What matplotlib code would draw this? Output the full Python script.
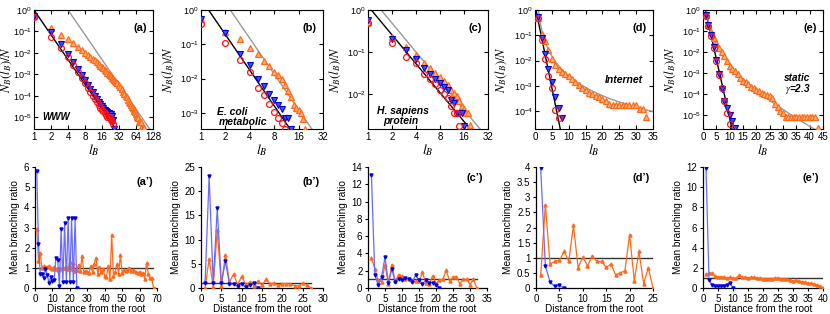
import numpy as np
import matplotlib.pyplot as plt
from matplotlib.ticker import FixedLocator, NullLocator, LogLocator, LogFormatterSciNotation

plt.rcParams['font.family'] = ['Liberation Sans', 'DejaVu Sans']
plt.rcParams['mathtext.fontset'] = 'stix'

ORANGE = '#ff6a1a'

# ---------------- top row: N_B(l_B)/N ----------------
# (a) WWW
a_l_red = list(range(1, 26))
a_red = [0.45, 0.055, 0.017, 0.0065, 0.0028, 0.0013, 6.5e-4, 3.8e-4, 2.3e-4, 1.5e-4,
         1.0e-4, 7e-5, 5e-5, 3.8e-5, 2.9e-5, 2.3e-5, 1.9e-5, 1.6e-5, 1.3e-5, 1.1e-5,
         1.0e-5, 9e-6, 8e-6, 6.5e-6, 5e-6]
a_l_blue = list(range(1, 27))
a_blue = [0.5, 0.09, 0.025, 0.009, 0.0038, 0.0018, 9.5e-4, 5.5e-4, 3.4e-4, 2.2e-4,
          1.5e-4, 1.05e-4, 7.5e-5, 5.5e-5, 4.3e-5, 3.4e-5, 2.8e-5, 2.3e-5, 2.0e-5, 1.8e-5,
          1.6e-5, 1.5e-5, 1.4e-5, 1.2e-5, 8e-6, 3e-6]
a_l_or = list(range(1, 31)) + list(range(32, 80, 2)) + [80, 84, 88]
a_or = [0.55, 0.14, 0.07, 0.044, 0.029, 0.02, 0.014, 0.0105, 0.0082, 0.0066,
        0.0054, 0.0045, 0.0038, 0.0031, 0.0026, 0.0022, 0.0019, 0.0016, 0.0014, 0.0012,
        0.00105, 9.2e-4, 8.1e-4, 7.2e-4, 6.4e-4, 5.7e-4, 5.1e-4, 4.6e-4, 4.2e-4, 3.8e-4,
        3.1e-4, 2.5e-4, 2.0e-4, 1.6e-4, 1.3e-4, 1.05e-4, 8.5e-5, 6.8e-5, 5.5e-5, 4.5e-5,
        3.8e-5, 3.2e-5, 2.8e-5, 2.4e-5, 2.0e-5, 1.7e-5, 1.4e-5, 1.2e-5, 1.0e-5, 9.2e-6,
        6.1e-6, 6.1e-6, 6.1e-6, 6.1e-6, 3.1e-6, 3.1e-6, 3.1e-6]

# (b) E. coli metabolic
b_l_red = list(range(1, 12))
b_red = [0.38, 0.11, 0.036, 0.016, 0.0055, 0.0033, 0.0018, 0.0011, 7e-4, 5e-4, 3.4e-4]
b_l_blue = list(range(1, 14))
b_blue = [0.53, 0.21, 0.052, 0.025, 0.0095, 0.0062, 0.0036, 0.0024, 0.0017, 0.0013,
          7.2e-4, 7.0e-4, 3.5e-4]
b_l_or = list(range(1, 20))
b_or = [0.55, 0.23, 0.14, 0.08, 0.052, 0.033, 0.023, 0.016, 0.013, 0.0095,
        0.0065, 0.0045, 0.003, 0.0017, 0.0014, 0.0012, 0.001, 6.5e-4, 3.5e-4]

# (c) H. sapiens protein
c_l_red = list(range(1, 15))
c_red = [0.48, 0.16, 0.078, 0.056, 0.03, 0.023, 0.017, 0.0126, 0.01, 0.0081,
         0.0053, 0.0035, 0.0035, 0.0017]
c_l_blue = list(range(1, 17))
c_blue = [0.58, 0.21, 0.115, 0.068, 0.041, 0.03, 0.023, 0.018, 0.0146, 0.0126,
          0.0074, 0.006, 0.0035, 0.0035, 0.0035, 0.0017]
c_l_or = list(range(1, 20))
c_or = [0.53, 0.23, 0.135, 0.086, 0.056, 0.041, 0.031, 0.026, 0.02, 0.0165,
        0.0126, 0.0106, 0.0088, 0.0067, 0.0051, 0.0045, 0.0036, 0.0036, 0.0018]

# (d) Internet
d_l_red = list(range(1, 8))
d_red = [0.48, 0.066, 0.012, 0.0025, 8e-4, 1.17e-4, 5.5e-5]
d_l_blue = list(range(1, 9))
d_blue = [0.52, 0.075, 0.019, 0.0047, 0.0014, 3.8e-4, 1.4e-4, 5.5e-5]
d_l_or = list(range(1, 34))
d_or = [0.5, 0.11, 0.06, 0.026, 0.012, 0.0068, 0.0048, 0.0036, 0.0029, 0.0024,
        0.0019, 0.0014, 0.0011, 8.5e-4, 7e-4, 5.5e-4, 4.7e-4, 4.2e-4, 3.6e-4, 3.0e-4,
        2.5e-4, 2.0e-4, 1.7e-4, 1.8e-4, 1.8e-4, 1.8e-4, 1.8e-4, 1.8e-4, 1.7e-4, 1.8e-4,
        1.25e-4, 1.25e-4, 6e-5]

# (e) static model, gamma = 2.3
e_l_red = list(range(1, 11))
e_red = [0.5, 0.17, 0.058, 0.016, 0.0037, 8e-4, 1.8e-4, 4.5e-5, 1.2e-5, 3.5e-6]
e_l_blue = list(range(1, 13))
e_blue = [0.55, 0.2, 0.065, 0.017, 0.004, 8.5e-4, 1.7e-4, 4.5e-5, 2.1e-5, 1e-5, 5e-6, 2.3e-6]
e_l_or = list(range(1, 44))
e_or = [0.55, 0.2, 0.085, 0.044, 0.026, 0.016, 0.01, 0.0062, 0.0035, 0.0021,
        0.0016, 0.0012, 8.5e-4, 6e-4, 4.2e-4, 3.5e-4, 2.8e-4, 2.2e-4, 1.8e-4, 1.6e-4,
        1.35e-4, 1.15e-4, 1.0e-4, 9e-5, 8e-5, 6e-5, 3.2e-5, 2.3e-5, 1.6e-5, 1.2e-5,
        8e-6, 8e-6, 8e-6, 8e-6, 8e-6, 8e-6, 8e-6, 8e-6, 8e-6, 8e-6,
        8e-6, 8e-6, 2.3e-6]

# fits: power law (l/l0)^-d for log-log panels
a_fit_black, a_fit_gray = (1.0, 3.83), (4.0, 3.83)
b_fit_black, b_fit_gray = (1.24, 3.45), (2.3, 3.45)
c_fit_black, c_fit_gray = (1.1, 2.28), (1.46, 2.28)
# semilog panels: black 10^(-s (l - l0)); gray (l/l0)^-g exp(-l/lc)
d_fit_black, d_fit_gray = (0.3, 0.653), (1.0, 2.6, 1e9)
e_fit_black, e_fit_gray = (0.9, 0.568), (1.27, 2.34, 8.5)

# ---------------- bottom row: mean branching ratio ----------------
ap_blue = [5.8, 2.2, 0.7, 0.7, 0.5, 0.95, 0.65, 0.25, 0.55, 0.35, 0.4, 1.5, 1.4, 0.1,
           2.95, 0.3, 3.2, 0.3, 3.45, 0.3, 3.45, 0.3, 3.45, 0.0]
ap_or = [2.95, 1.35, 1.75, 1.0, 1.1, 1.05, 1.05, 1.1, 1.0, 0.95, 1.05, 0.95, 0.9, 1.0,
         0.95, 1.0, 1.0, 1.05, 0.95, 1.3, 0.95, 1.25, 0.85, 0.9, 1.15, 0.85, 1.6, 0.8,
         0.85, 0.8, 0.75, 1.1, 0.8, 1.2, 1.5, 0.7, 1.05, 0.8, 0.95, 0.6, 0.55, 1.1, 0.45,
         2.65, 0.6, 0.8, 1.2, 0.7, 1.65, 0.75, 0.9, 0.85, 0.9, 1.0, 0.85, 0.9, 0.85, 0.8,
         0.75, 0.8, 0.7, 0.75, 0.45, 1.25, 0.7, 0.5, 0.5, 0.0]
bp_blue = [1.0, 23.1, 1.0, 16.5, 1.0, 5.5, 0.75, 0.75, 0.4, 0.9, 0.2, 0.7, 1.0, 0.0]
bp_or = [0.0, 6.0, 0.2, 12.0, 0.5, 6.9, 1.2, 2.9, 0.7, 2.4, 0.7, 1.2, 0.5, 1.4, 0.6,
         1.8, 0.9, 1.0, 0.6, 0.9, 0.9, 0.8, 0.5, 0.4, 1.0, 0.6, 0.0]
cp_blue = [13.1, 1.5, 0.4, 1.3, 3.55, 0.6, 2.15, 0.7, 1.0, 0.9, 1.1, 1.0, 0.7, 1.5,
           0.9, 0.5, 0.9, 0.6, 0.6, 0.3, 0.0]
cp_or = [3.5, 2.25, 0.9, 0.7, 2.65, 0.5, 2.7, 0.8, 1.55, 1.4, 1.0, 1.0, 0.8, 0.8, 0.8,
         1.8, 0.6, 0.5, 1.4, 0.5, 0.9, 1.0, 2.05, 0.8, 1.3, 1.3, 0.5, 1.0, 1.0, 0.4,
         1.0, 0.0]
dp_blue = [3.97, 0.73, 0.2, 0.05, 0.09, 0.0]
dp_or = [0.42, 2.75, 0.79, 0.88, 0.91, 1.21, 0.88, 2.07, 0.67, 1.02, 0.73, 1.06, 0.88,
         0.88, 0.68, 0.79, 0.44, 0.5, 0.57, 1.76, 0.24, 1.21, 0.14, 0.67, 0.0]
ep_blue = [11.9, 0.83, 0.26, 0.17, 0.17, 0.2, 0.2, 0.26, 0.53, 0.0]
ep_or = [1.35, 1.45, 1.5, 1.15, 1.12, 1.1, 1.05, 1.0, 1.05, 0.95, 0.95, 1.25, 1.05,
         1.05, 1.0, 1.05, 1.05, 0.98, 0.95, 0.92, 0.9, 0.92, 0.9, 0.95, 0.97, 0.92, 0.9,
         0.85, 0.8, 0.72, 0.75, 0.68, 0.62, 0.58, 0.5, 0.45, 0.4, 0.3, 0.2, 0.03]

W, H = 830, 314
fig = plt.figure(figsize=(W / 100, H / 100), dpi=100)


def box(x0, x1, y0, y1):
    return [x0 / W, 1 - y1 / H, (x1 - x0) / W, (y1 - y0) / H]


top_x = [(34, 153), (201, 323), (368, 488), (535, 653), (703, 823)]
bot_x = [(35, 157), (201, 323), (368, 487), (536, 653), (703, 823)]
ylab_off = [20, 25, 25, 26, 25]   # px from left spine to right edge of the y-label


def top_panel(i, red, blue, orange, ylim, tag):
    ax = fig.add_axes(box(*top_x[i], 10, 129))
    ax.plot(orange[0], orange[1], ls='none', marker='^', ms=4.6, mfc='#ffb27a', mec=ORANGE,
            mew=0.9, zorder=3)
    ax.plot(blue[0], blue[1], ls='none', marker='v', ms=4.6, mfc='#3c50ff', mec='#0000d0',
            mew=0.8, zorder=4)
    ax.plot(red[0], red[1], ls='none', marker='o', ms=4.2, mfc='none', mec='#ff1010',
            mew=0.9, zorder=5)
    ax.set_yscale('log')
    ax.set_ylim(*ylim)
    ax.tick_params(which='both', direction='in', top=True, right=True, length=3)
    ax.tick_params(axis='x', labelsize=7, pad=2.5)
    ax.tick_params(axis='y', labelsize=6.5, pad=1.5)
    ax.yaxis.set_major_locator(LogLocator(base=10, numticks=12))
    ax.yaxis.set_major_formatter(LogFormatterSciNotation())
    ax.yaxis.set_minor_locator(NullLocator())
    ax.set_ylabel('$N_B(l_B)/N$', fontsize=9)
    w = top_x[i][1] - top_x[i][0]
    ax.yaxis.set_label_coords(-ylab_off[i] / w, 0.5)
    ax.set_xlabel('$l_B$', fontsize=10, labelpad=0)
    ax.text(0.95, 0.85, tag, transform=ax.transAxes, ha='right', va='center',
            fontsize=8, fontweight='bold')
    return ax


def note(ax, x, y, s, size=7.5, ha='left'):
    ax.text(x, y, s, transform=ax.transAxes, ha=ha, va='center',
            fontsize=size, fontweight='bold', style='italic')


def log2_axis(ax, top):
    ticks = [2 ** k for k in range(0, int(np.log2(top)) + 1)]
    ax.set_xscale('log', base=2)
    ax.set_xlim(1, top)
    ax.xaxis.set_major_locator(FixedLocator(ticks))
    ax.xaxis.set_minor_locator(NullLocator())
    ax.set_xticklabels([str(t) for t in ticks])


def powerline(ax, fit, color, xmax):
    l0, d = fit
    xs = np.geomspace(1, xmax, 200)
    ax.plot(xs, (xs / l0) ** (-d), color=color, lw=1, zorder=2)


def semilog_lines(ax, black, gray, xmax):
    xs = np.linspace(0.01, xmax, 400)
    ax.plot(xs, 10 ** (-black[1] * (xs - black[0])), color='black', lw=1, zorder=2)
    ax.plot(xs, (xs / gray[0]) ** (-gray[1]) * np.exp(-xs / gray[2]),
            color='#999999', lw=1, zorder=2)
    ax.set_xlim(0, xmax)
    ax.set_xticks(range(0, xmax + 1, 5))


ax = top_panel(0, (a_l_red, a_red), (a_l_blue, a_blue), (a_l_or, a_or), (2.9e-6, 1), '(a)')
log2_axis(ax, 128)
powerline(ax, a_fit_black, 'black', 128)
powerline(ax, a_fit_gray, '#999999', 128)
note(ax, 0.19, 0.10, 'WWW', size=7, ha='center')

ax = top_panel(1, (b_l_red, b_red), (b_l_blue, b_blue), (b_l_or, b_or), (3.4e-4, 1), '(b)')
log2_axis(ax, 32)
powerline(ax, b_fit_black, 'black', 32)
powerline(ax, b_fit_gray, '#999999', 32)
note(ax, 0.13, 0.14, 'E. coli')
note(ax, 0.15, 0.062, 'metabolic')

ax = top_panel(2, (c_l_red, c_red), (c_l_blue, c_blue), (c_l_or, c_or), (1.48e-3, 1), '(c)')
log2_axis(ax, 32)
powerline(ax, c_fit_black, 'black', 32)
powerline(ax, c_fit_gray, '#999999', 32)
note(ax, 0.075, 0.15, 'H. sapiens')
note(ax, 0.125, 0.068, 'protein')

ax = top_panel(3, (d_l_red, d_red), (d_l_blue, d_blue), (d_l_or, d_or), (2e-5, 1), '(d)')
semilog_lines(ax, d_fit_black, d_fit_gray, 35)
note(ax, 0.755, 0.41, 'Internet', ha='center')

ax = top_panel(4, (e_l_red, e_red), (e_l_blue, e_blue), (e_l_or, e_or), (2.1e-6, 1), '(e)')
semilog_lines(ax, e_fit_black, e_fit_gray, 45)
note(ax, 0.78, 0.43, 'static', size=7.2, ha='center')
note(ax, 0.79, 0.335, '$\\gamma$=2.3', size=7.2, ha='center')

# bottom row
bottom = [
    (ap_blue, ap_or, (0, 70), 10, (0, 6), 1, "(a’)", 67.5, 0.875),
    (bp_blue, bp_or, (0, 30), 5, (0, 25), 5, "(b’)", 27, 0.875),
    (cp_blue, cp_or, (0, 35), 5, (0, 14), 2, "(c’)", 32, 0.905),
    (dp_blue, dp_or, (0, 25), 5, (0, 4), 0.5, "(d’)", 25, 0.905),
    (ep_blue, ep_or, (0, 40), 5, (0, 12), 2, "(e’)", 40, 0.905),
]
for i, (bl, orr, xl, xst, yl, yst, tag, hend, tag_y) in enumerate(bottom):
    ax = fig.add_axes(box(*bot_x[i], 167, 288))
    ax.plot(range(1, len(orr) + 1), orr, color=ORANGE, lw=0.9, marker='^', ms=2.2,
            mfc=ORANGE, mec=ORANGE, zorder=3)
    ax.plot(range(1, len(bl) + 1), bl, color='#6a6aff', lw=0.9, marker='v', ms=2.2,
            mfc='#0000e0', mec='#0000e0', zorder=4)
    ax.plot([0.3, hend], [1, 1], color='#333333', lw=1, zorder=2)
    ax.set_xlim(*xl)
    ax.set_ylim(*yl)
    ax.set_xticks(np.arange(xl[0], xl[1] + 0.01, xst))
    yt = np.arange(yl[0], yl[1] + 0.001, yst)
    ax.set_yticks(yt)
    ax.set_yticklabels(['%g' % v for v in yt])
    ax.spines['top'].set_visible(False)
    ax.spines['right'].set_visible(False)
    ax.spines['left'].set_linewidth(0.9)
    ax.spines['bottom'].set_linewidth(0.9)
    ax.tick_params(direction='out', length=2.5, labelsize=7, pad=1.5)
    ax.set_ylabel('Mean branching ratio', fontsize=7.2, labelpad=3)
    ax.set_xlabel('Distance from the root', fontsize=7.2, labelpad=0.5)
    ax.text(0.97, tag_y, tag, transform=ax.transAxes, ha='right', va='center',
            fontsize=8, fontweight='bold')

fig.savefig('out.png', dpi=100)
